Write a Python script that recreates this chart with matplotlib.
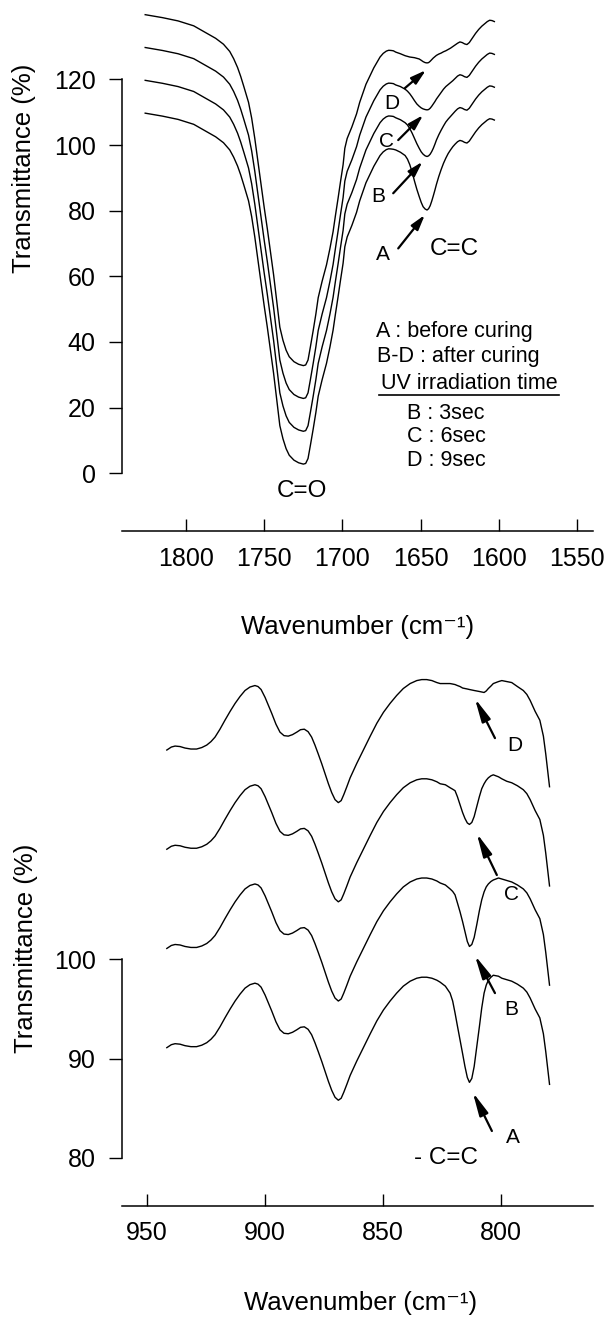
import matplotlib
matplotlib.use("Agg")
import matplotlib.pyplot as plt
from matplotlib.lines import Line2D

plt.rcParams['font.family'] = ['Liberation Sans', 'DejaVu Sans']

# ---------------- carbonyl / vinyl region (1830-1600 cm-1) ----------------
top_wn = [1826, 1815, 1805, 1795, 1788, 1781, 1776, 1772, 1769.5, 1767,
          1765, 1763, 1760, 1758, 1756, 1754, 1752, 1750, 1748, 1746,
          1744, 1742, 1740, 1738, 1736, 1734, 1731, 1728, 1725, 1723.5,
          1722, 1720.5, 1718.7, 1717, 1715.5, 1713, 1710.2, 1708, 1706, 1704.5,
          1702.8, 1701.2, 1699.6, 1698.5, 1697, 1694, 1691, 1689, 1685, 1680,
          1676, 1674, 1672, 1670.5, 1669, 1667.5, 1666, 1663, 1660, 1658.5,
          1657, 1655.5, 1654, 1652.5, 1651, 1649.7, 1648.5, 1647.2, 1646, 1645,
          1644, 1643, 1642, 1641, 1640, 1638.5, 1637, 1635.5, 1634, 1632.5,
          1631, 1629.5, 1628, 1626.5, 1625, 1623.5, 1622, 1620.5, 1619, 1617,
          1615, 1613, 1611, 1609, 1607.5, 1606, 1604.5, 1603]

top_A = [109.7, 108.8, 107.8, 106.3, 104.4, 102.5, 100.7, 98.5, 96.3, 93.6,
         90.9, 87.8, 83.0, 78.2, 72.0, 65.0, 58.0, 51.0, 44.5, 37.5,
         30.5, 22.5, 14.5, 10.5, 7.5, 5.5, 4.0, 3.2, 2.8, 3.0,
         4.5, 8.5, 13.5, 18.5, 23.5, 28.5, 33.5, 38.5, 43.6, 48.5,
         53.8, 59.0, 64.0, 69.0, 72.0, 75.5, 79.5, 83.0, 88.5, 93.5,
         96.8, 97.9, 98.6, 98.85, 98.8, 98.7, 98.5, 97.8, 96.8, 95.7,
         94.0, 91.7, 89.0, 86.5, 84.3, 82.5, 81.2, 80.5, 80.2, 80.6,
         81.5, 82.9, 84.5, 86.2, 88.0, 90.4, 92.5, 94.4, 96.0, 97.4,
         98.5, 99.5, 100.3, 101.0, 101.4, 101.2, 100.8, 100.6, 101.2, 102.6,
         104.0, 105.2, 106.2, 107.0, 107.6, 108.0, 107.9, 107.6]

top_B = [119.7, 118.8, 117.8, 116.3, 114.4, 112.5, 110.7, 108.5, 106.3, 103.6,
         100.9, 97.8, 93.0, 88.2, 82.0, 75.0, 68.0, 61.0, 54.5, 47.5,
         40.5, 32.5, 24.5, 20.5, 17.5, 15.5, 14.0, 13.2, 12.8, 13.0,
         14.5, 18.5, 23.5, 28.5, 33.5, 38.5, 43.5, 48.5, 53.6, 58.5,
         63.8, 69.0, 74.0, 79.0, 82.0, 85.5, 89.5, 93.0, 98.5, 103.5,
         106.8, 107.9, 108.6, 108.85, 108.8, 108.7, 108.3, 107.7, 106.8, 106.1,
         105.0, 103.6, 102.0, 100.4, 99.0, 97.9, 97.2, 96.7, 96.5, 96.7,
         97.2, 98.0, 99.0, 100.2, 101.5, 103.1, 104.5, 105.8, 107.0, 107.9,
         108.7, 109.5, 110.3, 111.0, 111.4, 111.2, 110.8, 110.6, 111.2, 112.6,
         114.0, 115.2, 116.2, 117.0, 117.6, 118.0, 117.9, 117.6]

top_C = [129.7, 128.8, 127.8, 126.3, 124.4, 122.5, 120.7, 118.5, 116.3, 113.6,
         110.9, 107.8, 103.0, 98.2, 92.0, 85.0, 78.0, 71.0, 64.5, 57.5,
         50.5, 42.5, 34.5, 30.5, 27.5, 25.5, 24.0, 23.2, 22.8, 23.0,
         24.5, 28.5, 33.5, 38.5, 43.5, 48.5, 53.5, 58.5, 63.6, 68.5,
         73.8, 79.0, 84.0, 89.0, 92.0, 95.5, 99.5, 103.0, 108.5, 113.5,
         116.8, 117.9, 118.6, 118.85, 118.8, 118.7, 118.3, 117.8, 117.0, 116.4,
         115.6, 114.6, 113.5, 112.5, 111.8, 111.3, 111.0, 110.8, 110.7, 110.8,
         111.2, 111.8, 112.5, 113.2, 114.0, 115.0, 116.0, 117.0, 117.8, 118.4,
         119.0, 119.6, 120.3, 121.0, 121.4, 121.2, 120.8, 120.6, 121.2, 122.6,
         124.0, 125.2, 126.2, 127.0, 127.6, 128.0, 127.9, 127.6]

top_D = [139.7, 138.8, 137.8, 136.3, 134.4, 132.5, 130.7, 128.5, 126.3, 123.6,
         120.9, 117.8, 113.0, 108.2, 102.0, 95.0, 88.0, 81.0, 74.5, 67.5,
         60.5, 52.5, 44.5, 40.5, 37.5, 35.5, 34.0, 33.2, 32.8, 33.0,
         34.5, 38.5, 43.5, 48.5, 53.5, 58.5, 63.5, 68.5, 73.6, 78.5,
         83.8, 89.0, 94.0, 99.0, 102.0, 105.5, 109.5, 113.0, 118.5, 123.5,
         126.8, 127.9, 128.6, 128.85, 128.8, 128.7, 128.3, 127.8, 127.2, 127.0,
         126.8, 126.7, 126.6, 126.4, 126.2, 125.8, 125.4, 125.1, 125.0, 125.1,
         125.5, 126.0, 126.5, 126.9, 127.3, 127.7, 128.0, 128.4, 128.7, 129.1,
         129.5, 130.0, 130.5, 131.0, 131.4, 131.2, 130.8, 130.6, 131.2, 132.6,
         134.0, 135.2, 136.2, 137.0, 137.6, 138.0, 137.9, 137.6]

top_xticks = [1800, 1750, 1700, 1650, 1600, 1550]
top_yticks = [0, 20, 40, 60, 80, 100, 120]

# ---------------- =C-H out-of-plane region (940-780 cm-1) ----------------
bot_wn = [941.4, 939.5, 937.9, 935.8, 933.7, 931.2, 928.8, 926.6, 924.5, 922.7,
          921.0, 918.9, 916.8, 914.6, 912.5, 910.4, 908.3, 906.2, 904.1, 902.8,
          901.5, 899.8, 898.4, 897.0, 895.2, 893.5, 891.8, 890.0, 888.2, 886.4,
          884.8, 883.2, 881.6, 880.1, 878.7, 877.3, 875.8, 874.4, 873.0, 871.6,
          870.2, 868.8, 867.6, 866.5, 865.2, 863.8, 861.0, 858.2, 855.3, 852.5,
          849.7, 846.9, 844.1, 841.3, 838.4, 835.6, 833.5, 831.4, 829.2, 827.1,
          825.7, 823.5, 821.5, 820.4, 819.4, 818.4, 817.3, 816.2, 815.2, 814.2,
          813.3, 812.3, 811.3, 810.2, 809.1, 808.1, 807.1, 806.2, 805.3, 804.2,
          803.2, 801.0, 799.6, 797.5, 795.4, 793.0, 790.5, 789.0, 787.6, 785.5,
          783.5, 782.0, 781.0, 779.4]

bot_A = [91.1, 91.4, 91.5, 91.45, 91.3, 91.2, 91.2, 91.35, 91.6, 91.95,
         92.4, 93.2, 94.1, 95.0, 95.8, 96.5, 97.1, 97.45, 97.6, 97.5,
         97.2, 96.4, 95.6, 94.8, 93.7, 92.9, 92.55, 92.5, 92.65, 92.9,
         93.15, 93.2, 92.95, 92.4, 91.6, 90.7, 89.7, 88.7, 87.7, 86.8,
         86.1, 85.8, 86.0, 86.6, 87.4, 88.3, 89.75, 91.1, 92.5, 93.8,
         94.9, 95.8, 96.6, 97.3, 97.8, 98.1, 98.2, 98.2, 98.1, 97.9,
         97.7, 97.3, 96.6, 95.8, 94.6, 93.3, 91.9, 90.5, 89.2, 88.1,
         87.6, 88.0, 89.2, 91.2, 93.2, 95.1, 96.6, 97.4, 97.9, 98.2,
         98.4, 98.3, 98.1, 97.95, 97.8, 97.5, 97.1, 96.7, 96.1, 95.0,
         94.1, 92.5, 90.7, 87.4]

bot_B = [101.1, 101.4, 101.5, 101.45, 101.3, 101.2, 101.2, 101.35, 101.6, 101.95,
         102.4, 103.2, 104.1, 105.0, 105.8, 106.5, 107.1, 107.45, 107.6, 107.5,
         107.2, 106.4, 105.6, 104.8, 103.7, 102.9, 102.55, 102.5, 102.65, 102.9,
         103.15, 103.2, 102.95, 102.4, 101.6, 100.7, 99.7, 98.7, 97.7, 96.8,
         96.1, 95.8, 96.0, 96.6, 97.4, 98.3, 99.75, 101.1, 102.5, 103.8,
         104.9, 105.8, 106.6, 107.3, 107.8, 108.1, 108.2, 108.2, 108.1, 107.9,
         107.7, 107.5, 107.1, 106.85, 106.5, 105.7, 104.8, 103.8, 102.8, 101.8,
         101.3, 101.5, 102.2, 103.5, 104.9, 106.0, 106.8, 107.3, 107.6, 107.85,
         108.0, 108.2, 108.1, 107.95, 107.8, 107.5, 107.1, 106.7, 106.1, 105.0,
         104.1, 102.5, 100.7, 97.4]

bot_C = [111.1, 111.4, 111.5, 111.45, 111.3, 111.2, 111.2, 111.35, 111.6, 111.95,
         112.4, 113.2, 114.1, 115.0, 115.8, 116.5, 117.1, 117.45, 117.6, 117.5,
         117.2, 116.4, 115.6, 114.8, 113.7, 112.9, 112.55, 112.5, 112.65, 112.9,
         113.15, 113.2, 112.95, 112.4, 111.6, 110.7, 109.7, 108.7, 107.7, 106.8,
         106.1, 105.8, 106.0, 106.6, 107.4, 108.3, 109.75, 111.1, 112.5, 113.8,
         114.9, 115.8, 116.6, 117.3, 117.8, 118.1, 118.2, 118.2, 118.1, 117.9,
         117.7, 117.6, 117.3, 117.15, 117.0, 116.4, 115.6, 114.8, 114.2, 113.75,
         113.6, 113.8, 114.4, 115.4, 116.4, 117.2, 117.7, 118.05, 118.3, 118.5,
         118.6, 118.4, 118.2, 117.95, 117.8, 117.5, 117.1, 116.7, 116.1, 115.0,
         114.1, 112.5, 110.7, 107.4]

bot_D = [121.1, 121.4, 121.5, 121.45, 121.3, 121.2, 121.2, 121.35, 121.6, 121.95,
         122.4, 123.2, 124.1, 125.0, 125.8, 126.5, 127.1, 127.45, 127.6, 127.5,
         127.2, 126.4, 125.6, 124.8, 123.7, 122.9, 122.55, 122.5, 122.65, 122.9,
         123.15, 123.2, 122.95, 122.4, 121.6, 120.7, 119.7, 118.7, 117.7, 116.8,
         116.1, 115.8, 116.0, 116.6, 117.4, 118.3, 119.75, 121.1, 122.5, 123.8,
         124.9, 125.8, 126.6, 127.3, 127.8, 128.1, 128.2, 128.2, 128.1, 127.9,
         127.8, 127.8, 127.8, 127.75, 127.7, 127.6, 127.5, 127.35, 127.3, 127.25,
         127.2, 127.15, 127.1, 127.05, 127.0, 126.95, 126.9, 127.05, 127.3, 127.55,
         127.8, 128.0, 128.1, 128.0, 127.9, 127.5, 127.1, 126.7, 126.1, 125.0,
         124.1, 122.5, 120.7, 117.4]

bot_xticks = [950, 900, 850, 800]
bot_yticks = [80, 90, 100]

curve_names = ['A', 'B', 'C', 'D']
legend_lines = ['A : before curing', 'B-D : after curing']
legend_title = 'UV irradiation time'
legend_times = ['B : 3sec', 'C : 6sec', 'D : 9sec']

W, H = 608, 1317
fig = plt.figure(figsize=(W / 100, H / 100), dpi=100)
fig.patch.set_facecolor('white')

ax1 = fig.add_axes([121.7 / W, 1 - 531.3 / H, (593 - 121.7) / W, 531.3 / H])
ax2 = fig.add_axes([121.7 / W, 1 - 1206 / H, (593 - 121.7) / W, (1206 - 640) / H])

line_kw = dict(color='black', lw=1.0, solid_joinstyle='round')
for ys in (top_A, top_B, top_C, top_D):
    ax1.plot(top_wn, ys, **line_kw)
for ys in (bot_A, bot_B, bot_C, bot_D):
    ax2.plot(bot_wn, ys, **line_kw)

ax1.set_xlim(1841, 1540)
ax1.set_ylim(-17.67, 144.17)
ax2.set_xlim(960.5, 761)
ax2.set_ylim(75.14, 132.19)

for ax, xt, yt in ((ax1, top_xticks, top_yticks), (ax2, bot_xticks, bot_yticks)):
    ax.set_xticks(xt)
    ax.set_yticks(yt)
    ax.spines['top'].set_visible(False)
    ax.spines['right'].set_visible(False)
    ax.spines['left'].set_bounds(yt[0], yt[-1])
    ax.spines['left'].set_linewidth(1.1)
    ax.spines['bottom'].set_linewidth(1.1)
    ax.tick_params(axis='x', direction='in', length=8.6, width=1.0, pad=11,
                   labelsize=18)
    ax.tick_params(axis='y', direction='out', length=9.6, width=1.0, pad=9,
                   labelsize=18)
    ax.patch.set_alpha(0)

# axis titles
fig.text(24.5 / W, 1 - 168.3 / H, 'Transmittance (%)', rotation=90,
         ha='center', va='center', fontsize=18.5)
fig.text(26 / W, 1 - 948 / H, 'Transmittance (%)', rotation=90,
         ha='center', va='center', fontsize=18.5)
fig.text(358 / W, 1 - 626.7 / H, 'Wavenumber (cm\u207b\u00b9)',
         ha='center', va='center', fontsize=18.5)
fig.text(360.5 / W, 1 - 1303 / H, 'Wavenumber (cm\u207b\u00b9)',
         ha='center', va='center', fontsize=18.5)

# --- annotations, upper panel ---
arrow_top = dict(arrowstyle='-|>,head_length=0.45,head_width=0.13',
                 color='black', lw=1.6, shrinkA=0, shrinkB=0, mutation_scale=20)
top_arrows = {'A': ((1664.4, 68.5), (1647.4, 78.7)),
              'B': ((1667.6, 85.3), (1648.9, 94.9)),
              'C': ((1664.4, 101.5), (1648.5, 109.1)),
              'D': ((1660.2, 117.3), (1646.7, 122.8))}
top_letters = {'A': (1674, 66.5), 'B': (1677.2, 84.3),
               'C': (1671.8, 101.0), 'D': (1668.7, 112.7)}
for name in curve_names:
    tail, head = top_arrows[name]
    ax1.annotate('', xy=head, xytext=tail, arrowprops=arrow_top)
    ax1.text(*top_letters[name], name, ha='center', va='center', fontsize=15)
ax1.text(1628.5, 68.2, 'C=C', ha='center', va='center', fontsize=17.5)
ax1.text(1726.2, -5.4, 'C=O', ha='center', va='center', fontsize=17.5)

ax1.text(1678.7, 43.1, legend_lines[0], ha='left', va='center', fontsize=15.5)
ax1.text(1677.9, 35.5, legend_lines[1], ha='left', va='center', fontsize=15.5)
title_txt = ax1.text(1675.5, 27.4, legend_title, ha='left', va='center',
                     fontsize=15.5)
for i, s in enumerate(legend_times):
    ax1.text(1659.0, [18.1, 11.1, 3.8][i], s, ha='left', va='center',
             fontsize=15.5)

# --- annotations, lower panel ---
arrow_bot = dict(arrowstyle='-|>,head_length=0.7,head_width=0.14',
                 color='black', lw=1.6, shrinkA=0, shrinkB=0, mutation_scale=20)
bot_arrows = {'A': ((803.8, 82.7), (811.9, 86.6)),
              'B': ((802.5, 96.6), (811.0, 100.4)),
              'C': ((801.7, 108.5), (810.2, 112.7)),
              'D': ((802.5, 122.3), (811.0, 126.3))}
bot_letters = {'A': (795.0, 82.0), 'B': (795.4, 94.9),
               'C': (795.4, 106.5), 'D': (794.0, 121.6)}
for name in curve_names:
    tail, head = bot_arrows[name]
    ax2.annotate('', xy=head, xytext=tail, arrowprops=arrow_bot)
    ax2.text(*bot_letters[name], name, ha='center', va='center', fontsize=15)
ax2.text(823.1, 80.0, '- C=C', ha='center', va='center', fontsize=17.5)

# underline the irradiation-time heading
fig.canvas.draw()
bb = title_txt.get_window_extent(fig.canvas.get_renderer())
uy = bb.y0 - 1
fig.add_artist(Line2D([(bb.x0 - 2) / W, (bb.x1 + 2) / W], [uy / H, uy / H],
                      transform=fig.transFigure, color='black', lw=1.2))

fig.savefig('out.png', dpi=100, facecolor='white')
